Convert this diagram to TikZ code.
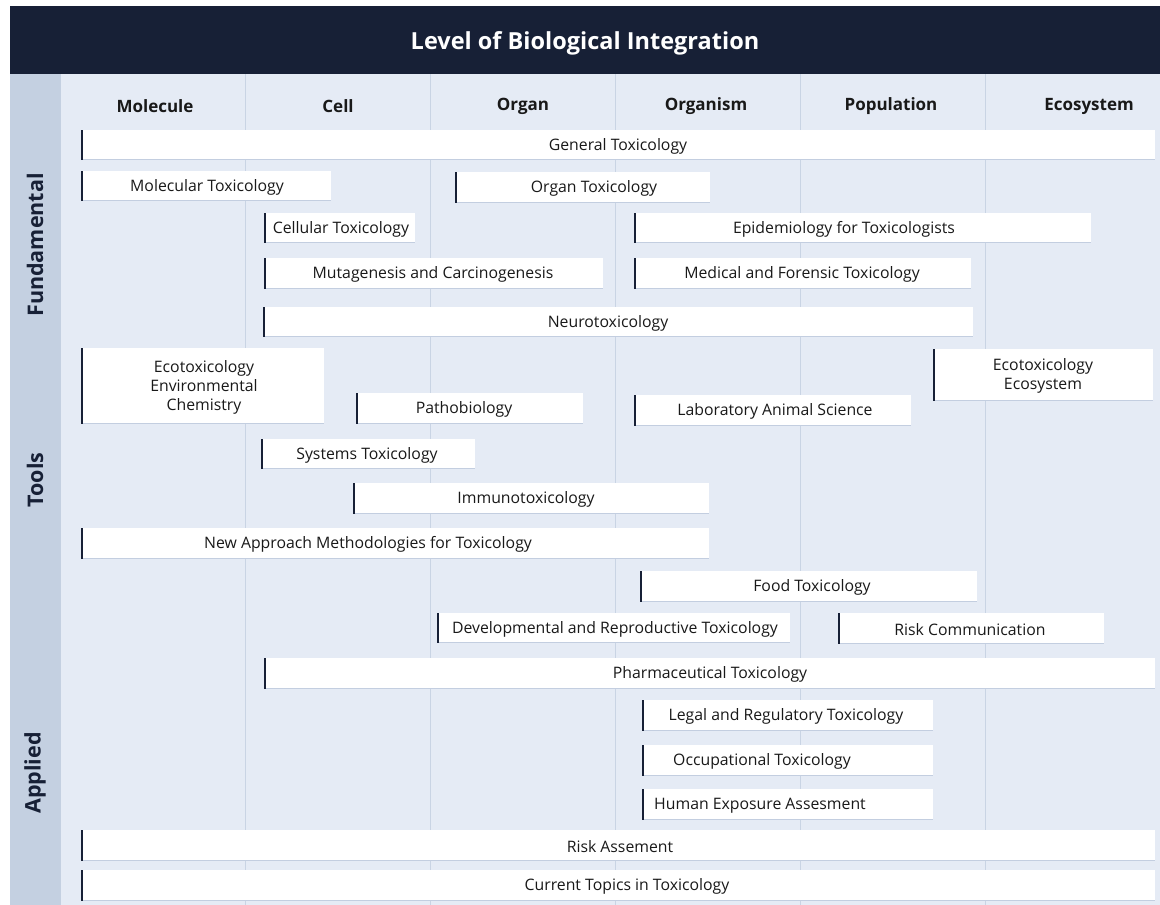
\documentclass[tikz,border=0pt]{standalone}
\usepackage{fontspec}
\setmainfont{Open Sans}
\usepackage{xcolor}
\usepackage{tikz}
\usetikzlibrary{positioning}

\definecolor{navy}{HTML}{172036}
\definecolor{sidegrey}{HTML}{C4D0E1}
\definecolor{panel}{HTML}{E5EBF5}
\definecolor{gridline}{HTML}{C9D4E4}
\definecolor{bargrey}{HTML}{C3CEE0}

\tikzstyle{topicbox} = [fill=white, draw=none, inner sep=0pt, anchor=north west]
\tikzstyle{leftedge} = [navy, line width=2.6pt]
\tikzstyle{shadeline} = [bargrey, line width=1.6pt]
\tikzstyle{topictext} = [font=\fontsize{15.8}{19}\selectfont, align=center, text=black!90]
\tikzstyle{colhead} = [font=\bfseries\fontsize{17}{20}\selectfont, text=black!90]
\tikzstyle{rowhead} = [rotate=90, font=\bfseries\fontsize{21.5}{24}\selectfont, text=navy]

% name, left, right, top, bottom, text x, text
\newcommand{\topic}[7]{%
    \node[topicbox, minimum width=#3pt-#2pt, minimum height=#5pt-#4pt] (#1) at (#2,#4) {};
    \draw[shadeline] ([yshift=0.8pt]#1.south west) -- ([yshift=0.8pt]#1.south east);
    \draw[leftedge] (#1.north west) -- (#1.south west);
    \node[topictext] (#1-t) at (#6, {(#4+#5)/2+1}) {#7};
}

\begin{document}
\begin{tikzpicture}[x=1pt, y=-1pt]
    \useasboundingbox (0,0) rectangle (1160,905);

    % header and background
    \fill[navy] (10,6) rectangle (1160,74);
    \node[text=white, font=\bfseries\fontsize{23.5}{26}\selectfont] (title) at (585,43) {Level of Biological Integration};
    \fill[sidegrey] (10,74) rectangle (61,905);
    \fill[panel] (61,74) rectangle (1160,905);
    \foreach \x in {245,430,615,800,985}
        \draw[gridline, line width=0.8pt] (\x,74) -- (\x,905);

    % columns
    \foreach \x/\lab [count=\i] in {155/Molecule, 338/Cell, 523/Organ, 706/Organism, 891/Population, 1089/Ecosystem}
        \node[colhead] (col\i) at (\x,106) {\lab};

    % rows
    \node[rowhead] (fund) at (35,245) {Fundamental};
    \node[rowhead] (tools) at (35,480) {Tools};
    \node[rowhead] (appl) at (35,773) {Applied};

    \topic{gen}{82}{1155}{130}{160}{618}{General Toxicology}
    \topic{mol}{82}{331}{171}{201}{207}{Molecular Toxicology}
    \topic{organ}{456}{710}{172}{203}{594}{Organ Toxicology}
    \topic{cell}{265}{415}{213}{243}{341}{Cellular Toxicology}
    \topic{epi}{635}{1091}{213}{243}{844}{Epidemiology for Toxicologists}
    \topic{muta}{265}{603}{258}{289}{433}{Mutagenesis and Carcinogenesis}
    \topic{med}{635}{971}{258}{289}{802}{Medical and Forensic Toxicology}
    \topic{neuro}{264}{973}{307}{337}{608}{Neurotoxicology}
    \topic{ecoenv}{82}{324}{348}{424}{204}{Ecotoxicology\\Environmental\\Chemistry}
    \topic{ecoeco}{934}{1153}{349}{401}{1043}{Ecotoxicology\\Ecosystem}
    \topic{patho}{357}{583}{393}{424}{464}{Pathobiology}
    \topic{lab}{635}{911}{395}{426}{775}{Laboratory Animal Science}
    \topic{sys}{262}{475}{439}{469}{367}{Systems Toxicology}
    \topic{immuno}{354}{709}{483}{514}{526}{Immunotoxicology}
    \topic{nam}{82}{709}{528}{559}{368}{New Approach Methodologies for Toxicology}
    \topic{food}{641}{977}{571}{602}{812}{Food Toxicology}
    \topic{dev}{438}{790}{613}{643}{615}{Developmental and Reproductive Toxicology}
    \topic{riskc}{839}{1104}{613}{644}{970}{Risk Communication}
    \topic{pharma}{265}{1155}{658}{689}{710}{Pharmaceutical Toxicology}
    \topic{legal}{643}{933}{700}{731}{786}{Legal and Regulatory Toxicology}
    \topic{occ}{643}{933}{745}{776}{762}{Occupational Toxicology}
    \topic{hum}{643}{933}{789}{820}{760}{Human Exposure Assesment}
    \topic{riska}{82}{1155}{830}{861}{620}{Risk Assement}
    \topic{curr}{82}{1155}{870}{901}{627}{Current Topics in Toxicology}
\end{tikzpicture}
\end{document}
